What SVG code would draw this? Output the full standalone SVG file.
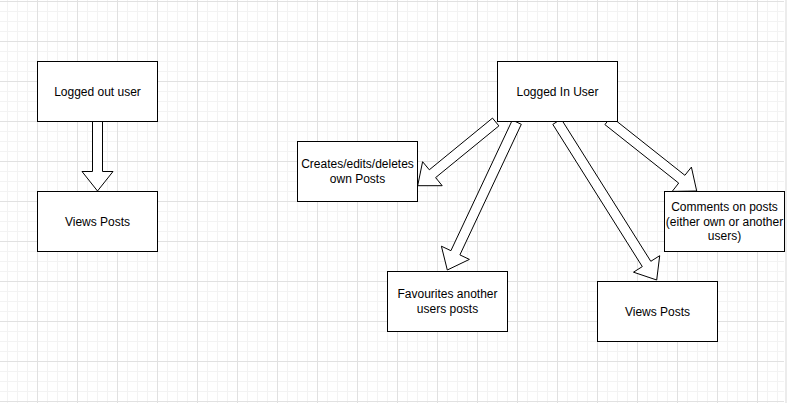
<svg xmlns="http://www.w3.org/2000/svg" width="787" height="403" viewBox="0 0 787 403">
  <defs>
    <pattern id="grid" x="-3" y="1" width="40" height="40" patternUnits="userSpaceOnUse">
      <rect x="10" y="0" width="1" height="40" fill="#f3f3f3"/>
      <rect x="20" y="0" width="1" height="40" fill="#f3f3f3"/>
      <rect x="30" y="0" width="1" height="40" fill="#f3f3f3"/>
      <rect x="0" y="10" width="40" height="1" fill="#f3f3f3"/>
      <rect x="0" y="20" width="40" height="1" fill="#f3f3f3"/>
      <rect x="0" y="30" width="40" height="1" fill="#f3f3f3"/>
      <rect x="0" y="0" width="1" height="40" fill="#e1e1e1"/>
      <rect x="0" y="0" width="40" height="1" fill="#e1e1e1"/>
    </pattern>
    <style>
      .box { fill: #ffffff; stroke: #000000; stroke-width: 1; }
      .arrow { fill: #ffffff; stroke: #000000; stroke-width: 1; }
      .label { font-family: "Liberation Sans", Arial, sans-serif; font-size: 12px; fill: #000000; text-anchor: middle; }
    </style>
  </defs>
  <rect x="0" y="0" width="787" height="403" fill="#ffffff"/>
  <rect x="0" y="0" width="784" height="403" fill="url(#grid)"/>
  <rect x="785" y="0" width="2" height="403" fill="#ececec"/>

  <g id="connectors">
    <polygon class="arrow" points="92.5,121.5 92.5,171.5 82,171.5 97.5,191 113,171.5 102.5,171.5 102.5,121.5"/>
    <polygon class="arrow" points="498.9,125.9 435.6,177.6 442.2,185.7 417.7,185.7 422.6,161.7 429.3,169.8 492.5,118.1"/>
    <polygon class="arrow" points="521.3,124.3 459.9,254.9 469.4,259.4 447.3,270 441.4,246.2 450.9,250.7 512.3,120.1"/>
    <polygon class="arrow" points="561.2,119 650.8,261.3 659.7,255.7 656.7,280 633.5,272.2 642.3,266.6 552.8,124.4"/>
    <polygon class="arrow" points="611.1,116.8 684.9,175.3 691.4,167.1 696.7,191 672.2,191.4 678.7,183.1 604.9,124.6"/>
  </g>

  <g id="logged-out-user">
    <rect class="box" x="37.5" y="61.5" width="120" height="60"/>
    <text class="label" x="97.5" y="95.5">Logged out user</text>
  </g>
  <g id="views-posts-left">
    <rect class="box" x="37.5" y="191.5" width="120" height="60"/>
    <text class="label" x="97.5" y="225.5">Views Posts</text>
  </g>
  <g id="logged-in-user">
    <rect class="box" x="497.5" y="61.5" width="120" height="60"/>
    <text class="label" x="557.5" y="95.5">Logged In User</text>
  </g>
  <g id="creates-edits-deletes">
    <rect class="box" x="297.5" y="141.5" width="120" height="60"/>
    <text class="label" x="357.5" y="168">Creates/edits/deletes</text>
    <text class="label" x="357.5" y="182.5">own Posts</text>
  </g>
  <g id="favourites">
    <rect class="box" x="387.5" y="271.5" width="120" height="60"/>
    <text class="label" x="447.5" y="298">Favourites another</text>
    <text class="label" x="447.5" y="312.5">users posts</text>
  </g>
  <g id="views-posts-right">
    <rect class="box" x="597.5" y="281.5" width="120" height="60"/>
    <text class="label" x="657.5" y="315.5">Views Posts</text>
  </g>
  <g id="comments">
    <rect class="box" x="664.5" y="191.5" width="120" height="60"/>
    <text class="label" x="724.5" y="211">Comments on posts</text>
    <text class="label" x="724.5" y="225.5">(either own or another</text>
    <text class="label" x="724.5" y="240">users)</text>
  </g>
</svg>
